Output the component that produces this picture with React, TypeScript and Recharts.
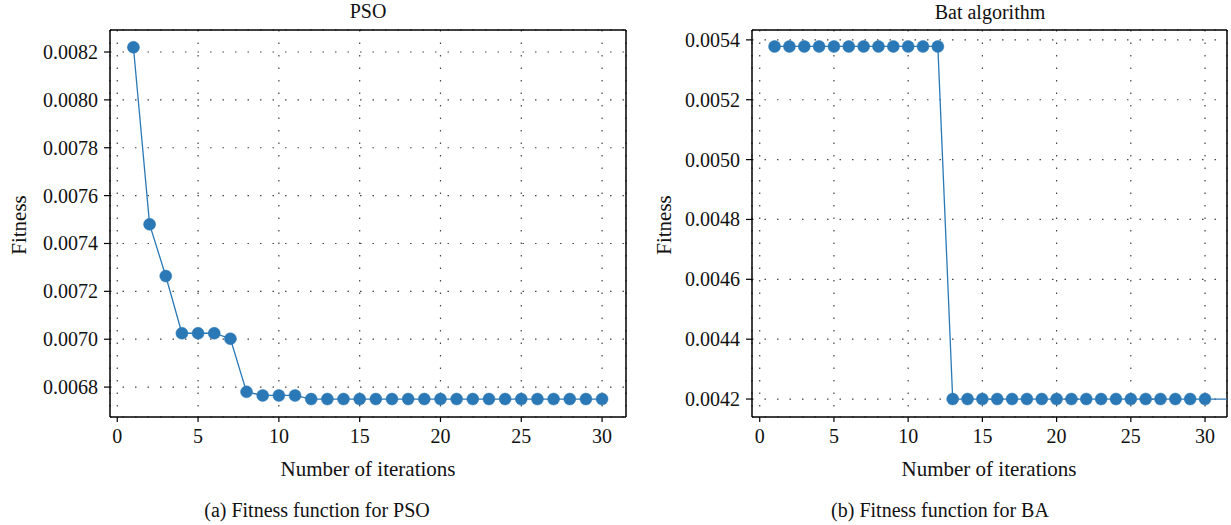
import { LineChart, Line, XAxis, YAxis, CartesianGrid, ReferenceLine } from "recharts";

const iterations = [1, 2, 3, 4, 5, 6, 7, 8, 9, 10, 11, 12, 13, 14, 15, 16, 17, 18, 19, 20, 21, 22, 23, 24, 25, 26, 27, 28, 29, 30];

const psoFitness = [
  0.00822, 0.00748, 0.007264, 0.007025, 0.007025, 0.007025, 0.007002, 0.00678, 0.006765, 0.006765,
  0.006765, 0.00675, 0.00675, 0.00675, 0.00675, 0.00675, 0.00675, 0.00675, 0.00675, 0.00675,
  0.00675, 0.00675, 0.00675, 0.00675, 0.00675, 0.00675, 0.00675, 0.00675, 0.00675, 0.00675,
];

const batFitness = [
  0.005378, 0.005378, 0.005378, 0.005378, 0.005378, 0.005378, 0.005378, 0.005378, 0.005378, 0.005378,
  0.005378, 0.005378, 0.0042, 0.0042, 0.0042, 0.0042, 0.0042, 0.0042, 0.0042, 0.0042,
  0.0042, 0.0042, 0.0042, 0.0042, 0.0042, 0.0042, 0.0042, 0.0042, 0.0042, 0.0042,
];

// the BA line runs on past the last marker up to the frame
const batTailIteration = [31.48];
const batTailFitness = [0.0042];

const xTicks = [0, 5, 10, 15, 20, 25, 30];
const psoYTicks = [0.0068, 0.007, 0.0072, 0.0074, 0.0076, 0.0078, 0.008, 0.0082];
const batYTicks = [0.0042, 0.0044, 0.0046, 0.0048, 0.005, 0.0052, 0.0054];

const FONT = "Liberation Serif, DejaVu Serif, serif";
const BLUE = "#2a79b6";

const psoData = iterations.map((x, i) => ({ x, y: psoFitness[i] }));
const batData = [
  ...iterations.map((x, i) => ({ x, y: batFitness[i] })),
  ...batTailIteration.map((x, i) => ({ x, y: batTailFitness[i] })),
];

const renderDot = (props: any) => {
  const { cx, cy, payload, index } = props;
  if (cx == null || payload.x > 30) return <g key={`d-${index}`} />;
  return <circle key={`d-${index}`} cx={cx} cy={cy} r={6} fill={BLUE} stroke={BLUE} strokeWidth={0.5} />;
};

const XTick = (props: any) => (
  <text x={props.x} y={props.y} dy={15} textAnchor="middle" fontFamily={FONT} fontSize={20} fill="#111">
    {props.payload.value}
  </text>
);

const YTick = (props: any) => (
  <text x={props.x} y={props.y} dy={7} textAnchor="end" fontFamily={FONT} fontSize={20} fill="#111">
    {Number(props.payload.value).toFixed(4)}
  </text>
);

interface PanelProps {
  data: { x: number; y: number }[];
  width: number;
  yAxisWidth: number;
  rightMargin: number;
  xDomain: [number, number];
  yDomain: [number, number];
  yTicks: number[];
}

const spine = { stroke: "#000", strokeWidth: 1.5 };

const FitnessPanel = ({ data, width, yAxisWidth, rightMargin, xDomain, yDomain, yTicks }: PanelProps) => (
  <LineChart width={width} height={460} data={data} margin={{ top: 30, right: rightMargin, bottom: 3, left: 0 }}>
    <CartesianGrid stroke="#444" strokeWidth={1.2} strokeDasharray="1.5 11" />
    <XAxis
      dataKey="x"
      type="number"
      domain={xDomain}
      ticks={xTicks}
      allowDataOverflow
      height={40}
      tickSize={5}
      tickMargin={6}
      tick={<XTick />}
      axisLine={spine}
      tickLine={{ stroke: "#000", strokeWidth: 1.2 }}
    />
    <YAxis
      type="number"
      domain={yDomain}
      ticks={yTicks}
      allowDataOverflow
      width={yAxisWidth}
      tickSize={6}
      tickMargin={6}
      tick={<YTick />}
      axisLine={spine}
      tickLine={{ stroke: "#000", strokeWidth: 1.2 }}
    />
    <ReferenceLine y={yDomain[1]} stroke="#000" strokeWidth={1.5} ifOverflow="visible" />
    <ReferenceLine x={xDomain[1]} stroke="#000" strokeWidth={1.5} ifOverflow="visible" />
    <Line
      type="linear"
      dataKey="y"
      stroke={BLUE}
      strokeWidth={1.3}
      dot={renderDot}
      activeDot={false}
      isAnimationActive={false}
    />
  </LineChart>
);

export default function App() {
  return (
    <div style={{ position: "absolute", left: 0, top: 0, width: 1231, height: 525, background: "#fff" }}>
      <div style={{ position: "absolute", left: 0, top: 0 }}>
        <FitnessPanel
          data={psoData}
          width={640}
          yAxisWidth={110}
          rightMargin={14}
          xDomain={[-0.45, 31.48]}
          yDomain={[0.006675, 0.008292]}
          yTicks={psoYTicks}
        />
      </div>
      <div style={{ position: "absolute", left: 640, top: 0 }}>
        <FitnessPanel
          data={batData}
          width={591}
          yAxisWidth={112}
          rightMargin={4}
          xDomain={[-0.52, 31.48]}
          yDomain={[0.00414, 0.005433]}
          yTicks={batYTicks}
        />
      </div>
      <svg
        width={1231}
        height={525}
        fontFamily={FONT}
        fill="#111"
        style={{ position: "absolute", left: 0, top: 0, pointerEvents: "none" }}
      >
        <text x={368} y={18} textAnchor="middle" fontSize={20}>PSO</text>
        <text x={990} y={19} textAnchor="middle" fontSize={20}>Bat algorithm</text>
        <text x={26} y={225} textAnchor="middle" fontSize={21} transform="rotate(-90 26 225)">Fitness</text>
        <text x={671} y={225} textAnchor="middle" fontSize={21} transform="rotate(-90 671 225)">Fitness</text>
        <text x={368} y={476} textAnchor="middle" fontSize={21}>Number of iterations</text>
        <text x={989} y={476} textAnchor="middle" fontSize={21}>Number of iterations</text>
        <text x={317} y={517} textAnchor="middle" fontSize={20}>(a) Fitness function for PSO</text>
        <text x={940} y={517} textAnchor="middle" fontSize={20}>(b) Fitness function for BA</text>
      </svg>
    </div>
  );
}
